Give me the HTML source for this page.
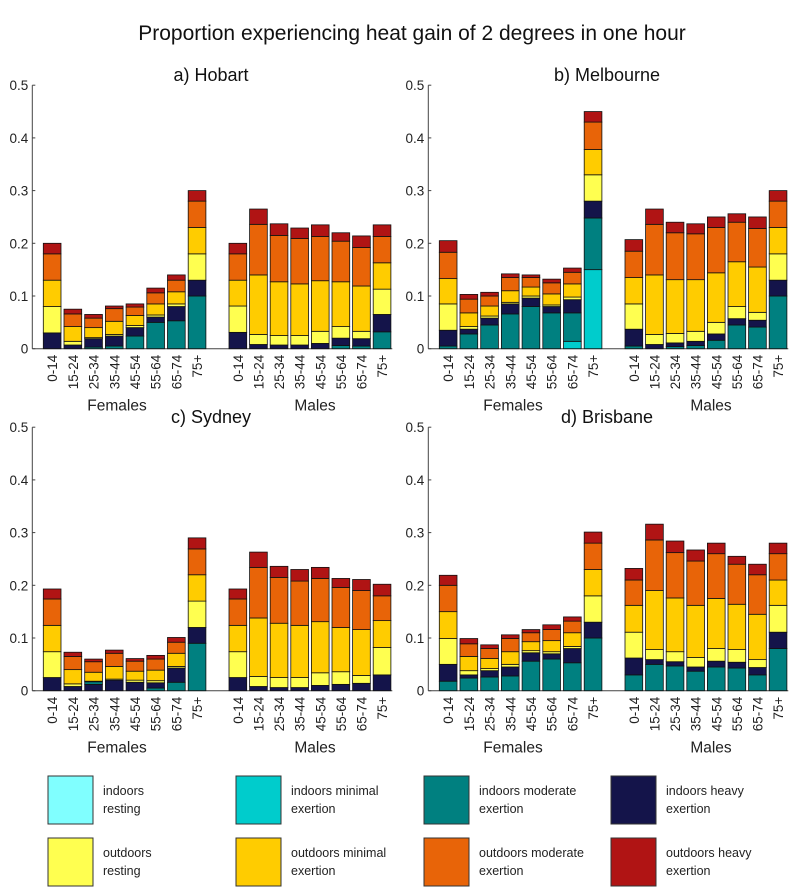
<!DOCTYPE html>
<html><head><meta charset="utf-8"><style>
html,body{margin:0;padding:0;background:#fff;width:796px;height:895px;overflow:hidden}
svg{display:block;font-family:"Liberation Sans",Arial,sans-serif}
</style></head><body>
<svg id="s" width="796" height="895" xmlns="http://www.w3.org/2000/svg"></svg>
<script>
const C={ir:'#80FFFF',im:'#00CCCC',t:'#008080',n:'#14144A',y:'#FFFF50',g:'#FFCC00',o:'#E86408',r:'#B01414'};
const P=[
{title:'a) Hobart',dx:0,dy:0,bars:[
[['n',.03],['y',.08],['g',.13],['o',.18],['r',.2]],
[['n',.007],['y',.014],['g',.042],['o',.066],['r',.075]],
[['t',.003],['n',.019],['y',.021],['g',.04],['o',.058],['r',.065]],
[['t',.005],['n',.024],['y',.027],['g',.052],['o',.076],['r',.081]],
[['t',.024],['n',.04],['y',.044],['g',.063],['o',.079],['r',.085]],
[['t',.05],['n',.06],['y',.064],['g',.085],['o',.106],['r',.115]],
[['t',.053],['n',.08],['y',.085],['g',.108],['o',.13],['r',.14]],
[['t',.1],['n',.13],['y',.18],['g',.23],['o',.28],['r',.3]],
[['n',.031],['y',.081],['g',.13],['o',.18],['r',.2]],
[['n',.008],['y',.027],['g',.14],['o',.236],['r',.265]],
[['n',.007],['y',.025],['g',.127],['o',.215],['r',.237]],
[['n',.007],['y',.025],['g',.123],['o',.209],['r',.229]],
[['n',.01],['y',.033],['g',.129],['o',.213],['r',.235]],
[['t',.006],['n',.02],['y',.042],['g',.127],['o',.204],['r',.22]],
[['t',.005],['n',.019],['y',.033],['g',.119],['o',.192],['r',.214]],
[['t',.032],['n',.065],['y',.113],['g',.163],['o',.213],['r',.235]]]},
{title:'b) Melbourne',dx:396,dy:0,bars:[
[['t',.005],['n',.035],['y',.085],['g',.133],['o',.183],['r',.205]],
[['t',.028],['n',.037],['y',.042],['g',.068],['o',.094],['r',.103]],
[['t',.045],['n',.058],['y',.062],['g',.081],['o',.1],['r',.107]],
[['t',.066],['n',.085],['y',.088],['g',.11],['o',.135],['r',.142]],
[['t',.08],['n',.096],['y',.1],['g',.117],['o',.135],['r',.14]],
[['t',.068],['n',.08],['y',.083],['g',.104],['o',.125],['r',.132]],
[['im',.014],['t',.068],['n',.093],['y',.098],['g',.123],['o',.145],['r',.153]],
[['im',.15],['t',.248],['n',.28],['y',.33],['g',.378],['o',.43],['r',.45]],
[['t',.005],['n',.037],['y',.085],['g',.135],['o',.185],['r',.207]],
[['n',.008],['y',.027],['g',.14],['o',.236],['r',.265]],
[['t',.004],['n',.011],['y',.029],['g',.131],['o',.22],['r',.24]],
[['t',.006],['n',.014],['y',.033],['g',.131],['o',.218],['r',.237]],
[['t',.016],['n',.028],['y',.05],['g',.144],['o',.23],['r',.25]],
[['t',.045],['n',.057],['y',.08],['g',.165],['o',.24],['r',.256]],
[['t',.041],['n',.054],['y',.069],['g',.155],['o',.228],['r',.25]],
[['t',.1],['n',.13],['y',.18],['g',.23],['o',.28],['r',.3]]]},
{title:'c) Sydney',dx:0,dy:342,bars:[
[['n',.025],['y',.074],['g',.124],['o',.174],['r',.193]],
[['n',.008],['y',.013],['g',.04],['o',.065],['r',.073]],
[['n',.012],['t',.017],['y',.018],['g',.035],['o',.055],['r',.06]],
[['n',.02],['y',.022],['g',.046],['o',.071],['r',.077]],
[['n',.016],['y',.02],['g',.037],['o',.056],['r',.061]],
[['t',.005],['n',.015],['y',.019],['g',.039],['o',.06],['r',.067]],
[['t',.016],['n',.043],['y',.046],['g',.071],['o',.092],['r',.101]],
[['t',.09],['n',.12],['y',.17],['g',.22],['o',.269],['r',.29]],
[['n',.025],['y',.074],['g',.124],['o',.174],['r',.193]],
[['n',.008],['y',.027],['g',.138],['o',.234],['r',.263]],
[['n',.006],['y',.025],['g',.128],['o',.215],['r',.236]],
[['n',.006],['y',.025],['g',.124],['o',.208],['r',.23]],
[['n',.01],['y',.034],['g',.131],['o',.213],['r',.234]],
[['n',.012],['y',.036],['g',.12],['o',.196],['r',.213]],
[['n',.014],['y',.029],['g',.116],['o',.19],['r',.211]],
[['n',.03],['y',.082],['g',.133],['o',.18],['r',.202]]]},
{title:'d) Brisbane',dx:396,dy:342,bars:[
[['t',.018],['n',.05],['y',.099],['g',.15],['o',.2],['r',.219]],
[['t',.024],['n',.03],['y',.038],['g',.065],['o',.089],['r',.099]],
[['t',.026],['n',.038],['y',.042],['g',.061],['o',.08],['r',.087]],
[['t',.028],['n',.045],['y',.05],['g',.074],['o',.099],['r',.106]],
[['t',.056],['n',.072],['y',.076],['g',.093],['o',.11],['r',.116]],
[['t',.06],['n',.07],['y',.074],['g',.095],['o',.116],['r',.125]],
[['t',.053],['n',.08],['y',.084],['g',.11],['o',.132],['r',.14]],
[['t',.1],['n',.13],['y',.18],['g',.23],['o',.28],['r',.301]],
[['t',.03],['n',.062],['y',.111],['g',.162],['o',.21],['r',.232]],
[['t',.05],['n',.059],['y',.078],['g',.19],['o',.286],['r',.316]],
[['t',.047],['n',.055],['y',.074],['g',.176],['o',.262],['r',.284]],
[['t',.037],['n',.045],['y',.063],['g',.162],['o',.246],['r',.267]],
[['t',.045],['n',.056],['y',.08],['g',.175],['o',.26],['r',.28]],
[['t',.043],['n',.054],['y',.078],['g',.164],['o',.24],['r',.255]],
[['t',.03],['n',.044],['y',.059],['g',.145],['o',.22],['r',.24]],
[['t',.08],['n',.111],['y',.162],['g',.21],['o',.26],['r',.28]]]}
];
const ages=['0-14','15-24','25-34','35-44','45-54','55-64','65-74','75+'];
let h='<text x="412" y="40" font-size="21" text-anchor="middle" fill="#111">Proportion experiencing heat gain of 2 degrees in one hour</text>';
const S=527;
for(const p of P){
  const ax=32.3+p.dx, y0=348.7+p.dy;
  h+=`<text x="${211+p.dx}" y="${81+p.dy}" font-size="18" text-anchor="middle" fill="#111">${p.title}</text>`;
  for(let k=0;k<=5;k++){const y=y0-k*52.7;
    h+=`<text x="${ax-4}" y="${y+5}" font-size="13.5" text-anchor="end" fill="#222">${k==0?'0':(k/10).toFixed(1)}</text>`;
    h+=`<line x1="${ax}" x2="${ax+3}" y1="${y}" y2="${y}" stroke="#444"/>`;}
  h+=`<line x1="${ax}" y1="${y0-263.5}" x2="${ax}" y2="${y0}" stroke="#444" stroke-width="1"/>`;
  h+=`<line x1="${ax}" y1="${y0}" x2="${ax+360}" y2="${y0}" stroke="#444" stroke-width="1"/>`;
  p.bars.forEach((b,i)=>{
    const x=(i<8?43.3+20.7*i:229+20.6*(i-8))+p.dx, w=17.7;
    let prev=0;
    for(const [c,v] of b){
      const yt=y0-v*S, yb=y0-prev*S;
      h+=`<rect x="${x}" y="${yt}" width="${w}" height="${Math.max(yb-yt,0.3)}" fill="${C[c]}" stroke="#111" stroke-width="0.8"/>`;
      prev=v;}
    const cx=x+w/2+5;
    h+=`<text transform="translate(${cx},${y0+6}) rotate(-90)" font-size="13.5" text-anchor="end" fill="#222">${ages[i%8]}</text>`;
  });
  h+=`<text x="${117+p.dx}" y="${y0+62}" font-size="15.5" text-anchor="middle" fill="#222">Females</text>`;
  h+=`<text x="${315+p.dx}" y="${y0+62}" font-size="15.5" text-anchor="middle" fill="#222">Males</text>`;
}
const L=[[48,776,'ir','indoors','resting'],[236,776,'im','indoors minimal','exertion'],[424,776,'t','indoors moderate','exertion'],[611,776,'n','indoors heavy','exertion'],
[48,838,'y','outdoors','resting'],[236,838,'g','outdoors minimal','exertion'],[424,838,'o','outdoors moderate','exertion'],[611,838,'r','outdoors heavy','exertion']];
for(const [x,y,c,a,b] of L){
  h+=`<rect x="${x}" y="${y}" width="45" height="48" fill="${C[c]}" stroke="#333" stroke-width="1"/>`;
  h+=`<text x="${x+55}" y="${y+19}" font-size="12.5" fill="#222">${a}</text><text x="${x+55}" y="${y+37}" font-size="12.5" fill="#222">${b}</text>`;
}
document.getElementById('s').innerHTML=h;
</script>
</body></html>
